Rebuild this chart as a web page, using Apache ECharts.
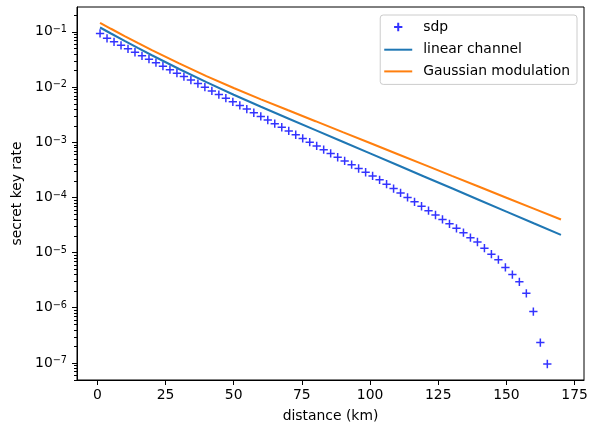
<!DOCTYPE html>
<html>
<head>
<meta charset="utf-8">
<script src="https://cdn.jsdelivr.net/npm/echarts@6/dist/echarts.min.js"></script>
<style>
html,body{margin:0;padding:0;background:#fff;}
#c{width:591px;height:428px;}
</style>
</head>
<body>
<div id="c"></div>
<script>
// ---- data ----
const sdpX = [1, 3.56, 6.13, 8.69, 11.25, 13.81, 16.38, 18.94, 21.5, 24.06,
  26.63, 29.19, 31.75, 34.31, 36.88, 39.44, 42, 44.56, 47.13, 49.69,
  52.25, 54.81, 57.38, 59.94, 62.5, 65.06, 67.63, 70.19, 72.75, 75.31,
  77.88, 80.44, 83, 85.56, 88.13, 90.69, 93.25, 95.81, 98.38, 100.94,
  103.5, 106.06, 108.63, 111.19, 113.75, 116.31, 118.88, 121.44, 124, 126.56,
  129.13, 131.69, 134.25, 136.81, 139.38, 141.94, 144.5, 147.06, 149.63, 152.19,
  154.75, 157.31, 159.88, 162.44, 165];
const sdpY = [0.0933, 0.0759, 0.0656, 0.0568, 0.0491, 0.0425, 0.0367, 0.0318, 0.0275, 0.0238,
  0.0206, 0.0178, 0.0154, 0.0133, 0.0115, 0.00989, 0.00849, 0.00729, 0.00627, 0.00538,
  0.00462, 0.00397, 0.00341, 0.00293, 0.00252, 0.00216, 0.00186, 0.00160, 0.00136, 0.00117,
  0.000998, 0.000853, 0.000729, 0.000624, 0.000533, 0.000456, 0.000390, 0.000333, 0.000285, 0.000244,
  0.000208, 0.000173, 0.000144, 0.000120, 0.0000998, 0.0000830, 0.0000690, 0.0000574, 0.0000479, 0.0000398,
  0.0000331, 0.0000275, 0.0000229, 0.0000186, 0.0000155, 0.0000120, 0.00000933, 0.00000741, 0.00000537, 0.00000398,
  0.00000295, 0.00000182, 0.000000851, 0.000000234, 0.0000000955];

const lineX = [1, 5, 10, 15, 20, 30, 40, 50, 60, 70, 80, 90, 100, 110, 120, 130, 140, 150, 160, 170];
const linearY = [0.1194, 0.0929, 0.0683, 0.0505, 0.0376, 0.02118, 0.01222, 0.00722, 0.00437, 0.00269,
  0.001653, 0.001017, 0.000626, 0.000385, 0.0002367, 0.0001457, 0.0000896, 0.0000551, 0.0000339, 0.0000209];
const gaussY = [0.1452, 0.1132, 0.0836, 0.0622, 0.0466, 0.0267, 0.01574, 0.00955, 0.00596, 0.00378,
  0.00240, 0.001519, 0.000963, 0.000610, 0.000387, 0.000245, 0.0001554, 0.0000985, 0.0000624, 0.0000396];

const xTicks = [0, 25, 50, 75, 100, 125, 150, 175];
const yTicks = [1e-7, 1e-6, 1e-5, 1e-4, 1e-3, 1e-2, 1e-1];
const seriesNames = ['sdp', 'linear channel', 'Gaussian modulation'];

// ---- chart ----
const xMin = -7.45, xMax = 178.45;
const yMin = 4.9e-8, yMax = 0.281;
const yMinor = [];
for (let e = -8; e <= -1; e++) {
  for (let m = 2; m <= 9; m++) {
    const v = m * Math.pow(10, e);
    if (v > yMin && v < yMax) yMinor.push(v);
  }
}
const FONT = 'DejaVu Sans';
const LINE_ICON = 'path://M0,0M28,14M0,6L28,6L28,8L0,8Z';
const chart = echarts.init(document.getElementById('c'), null, {renderer: 'canvas'});
const option = {
  animation: false,
  backgroundColor: '#fff',
  grid: {left: 77, right: 7, top: 7, bottom: 44, show: true, borderColor: '#000', borderWidth: 1, backgroundColor: 'transparent'},
  legend: {
    orient: 'vertical', right: 14, top: 15,
    padding: [4, 7, 6, 4],
    itemGap: 7.7, itemWidth: 28, itemHeight: 14,
    backgroundColor: 'rgba(255,255,255,0.8)', borderColor: '#cccccc', borderWidth: 1, borderRadius: 3,
    textStyle: {fontFamily: FONT, fontSize: 13.9, color: '#000', padding: [0, 0, 0, 6]},
    data: [
      {name: seriesNames[0], icon: 'path://M0,0M14,14M2.85,7L11.15,7M7,2.85L7,11.15'},
      {name: seriesNames[1], icon: LINE_ICON, itemStyle: {color: '#1f77b4', borderWidth: 0}},
      {name: seriesNames[2], icon: LINE_ICON, itemStyle: {color: '#ff7f0e', borderWidth: 0}}
    ]
  },
  xAxis: {
    type: 'value', min: xMin, max: xMax,
    axisLine: {show: true, onZero: false, lineStyle: {color: '#000', width: 1}},
    axisTick: {show: true, customValues: xTicks, length: 5, lineStyle: {color: '#000', width: 1}},
    axisLabel: {customValues: xTicks, color: '#000', fontFamily: FONT, fontSize: 13.9, margin: 8},
    splitLine: {show: false},
    name: 'distance (km)', nameLocation: 'middle', nameGap: 29,
    nameTextStyle: {fontFamily: FONT, fontSize: 13.9, color: '#000'}
  },
  yAxis: {
    type: 'log', min: yMin, max: yMax, position: 'left',
    axisLine: {show: true, onZero: false, lineStyle: {color: '#000', width: 1}},
    axisTick: {show: true, customValues: yTicks, length: 5, lineStyle: {color: '#000', width: 1}},
    axisLabel: {
      customValues: yTicks, color: '#000', margin: 10,
      formatter: function (v) {
        const e = Math.round(Math.log10(v));
        return '{b|10}{s|' + (e < 0 ? '\u2212' : '') + Math.abs(e) + '}';
      },
      rich: {
        b: {fontFamily: FONT, fontSize: 13.9, color: '#000', verticalAlign: 'bottom', lineHeight: 14, padding: [3, 0, 0, 0]},
        s: {fontFamily: FONT, fontSize: 9.7, color: '#000', verticalAlign: 'top', lineHeight: 10}
      }
    },
    splitLine: {show: false},
    name: 'secret key rate', nameLocation: 'middle', nameGap: 52, nameRotate: 90,
    nameTextStyle: {fontFamily: FONT, fontSize: 13.9, color: '#000'}
  },
  series: [{
    name: seriesNames[0], type: 'scatter',
    data: sdpX.map((x, i) => [x, sdpY[i]]),
    symbol: 'path://M0,5L10,5M5,0L5,10', symbolSize: 8.3,
    itemStyle: {color: 'transparent', borderColor: '#0000ff', borderWidth: 1.5},
    z: 2
  }, {
    name: seriesNames[1], type: 'line',
    data: lineX.map((x, i) => [x, linearY[i]]),
    symbol: 'none', lineStyle: {color: '#1f77b4', width: 2.08}, itemStyle: {color: '#1f77b4'},
    z: 3
  }, {
    name: seriesNames[2], type: 'line',
    data: lineX.map((x, i) => [x, gaussY[i]]),
    symbol: 'none', lineStyle: {color: '#ff7f0e', width: 2.08}, itemStyle: {color: '#ff7f0e'},
    z: 4
  }, {
    name: 'minor ticks', type: 'custom', silent: true, clip: false, z: 5,
    data: yMinor.map(v => [xMin, v]),
    renderItem: function (params, api) {
      const p = api.coord([api.value(0), api.value(1)]);
      const y = Math.round(p[1]) + 0.5;
      const x = Math.round(p[0]);
      return {
        type: 'line',
        shape: {x1: x - 3, y1: y, x2: x, y2: y},
        style: {stroke: '#000', lineWidth: 1}
      };
    }
  }]
};
chart.setOption(option);
</script>
</body>
</html>
